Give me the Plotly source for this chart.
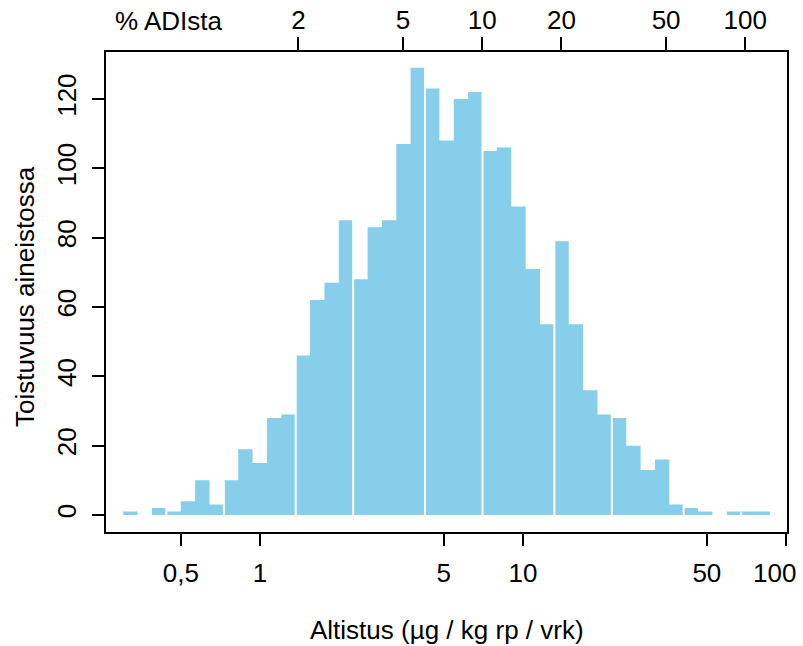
import numpy as np
import plotly.graph_objects as go

# ---- data ----
counts = [1, 0, 2,
          1, 4, 10, 3,
          10, 19, 15, 28, 29,
          46, 62, 67, 85,
          68, 83, 85, 107, 129,
          123, 108, 120, 122,
          105, 106, 89, 71, 55,
          79, 55, 36, 29,
          28, 20, 13, 16, 3,
          2, 1, 0, 1,
          1, 1]
first_edge = 0.302          # µg / kg rp / vrk, lower edge of first bin
log_bin_width = 0.05464     # bin width in log10 units
adi = 70.0                  # µg / kg rp / vrk  (100 % ADI)
separator_edges = [3, 7, 12, 16, 21, 25, 30, 34, 39, 43]
x_tickvals = [0.5, 1, 5, 10, 50, 100]
x_ticktext = ["0,5", "1", "5", "10", "50", ""]
last_x_label = "100"        # drawn right-aligned at the plot edge
pct_tickvals = [2, 5, 10, 20, 50, 100]
pct_ticktext = ["2", "5", "10", "20", "50", "100"]
y_tickvals = [0, 20, 40, 60, 80, 100, 120]

edges = first_edge * 10 ** (log_bin_width * np.arange(len(counts) + 1))

BAR = "#87CEEB"
FONT = "Liberation Sans, Arial, sans-serif"
FS = 26

fig = go.Figure()

# histogram as filled step outline
fig.add_trace(go.Scatter(
    x=list(edges[:-1]) + [edges[-1]],
    y=list(counts) + [counts[-1]],
    mode="lines", line_shape="hv",
    line=dict(width=0, color=BAR),
    fill="tozeroy", fillcolor=BAR,
    hoverinfo="skip", showlegend=False))

# thin white separators between some bins
sx, sy = [], []
for k in separator_edges:
    sx += [edges[k], edges[k], None]
    sy += [0, max(counts[k - 1], counts[k]), None]
fig.add_trace(go.Scatter(x=sx, y=sy, mode="lines",
                         line=dict(color="white", width=2),
                         hoverinfo="skip", showlegend=False))

# dummy trace for the % ADI axis
pct = [e * 100.0 / adi for e in edges]
fig.add_trace(go.Scatter(x=[pct[0], pct[-1]], y=[0, 0], xaxis="x2",
                         mode="markers", marker=dict(opacity=0),
                         hoverinfo="skip", showlegend=False))

lo, hi = -0.5856, 2.0038
shift = np.log10(100.0 / adi)

axis_common = dict(showgrid=False, zeroline=False, ticks="outside",
                   tickwidth=2, tickcolor="black", automargin=False,
                   tickfont=dict(family=FONT, size=FS, color="black"))

fig.update_layout(
    width=803, height=646,
    margin=dict(l=106, r=16, t=52, b=114, autoexpand=False),
    paper_bgcolor="white", plot_bgcolor="white",
    font=dict(family=FONT, color="black"),
    xaxis=dict(type="log", range=[lo, hi], tickvals=x_tickvals,
               ticktext=x_ticktext, ticklen=12,
               showline=True, linewidth=2, linecolor="black", mirror=True,
               ticklabelstandoff=5, **axis_common),
    xaxis2=dict(type="log", range=[lo + shift, hi + shift],
                overlaying="x", side="top", anchor="y",
                tickvals=pct_tickvals, ticktext=pct_ticktext, ticklen=14,
                showline=False, ticklabelstandoff=-2, **axis_common),
    yaxis=dict(range=[-4.9, 133.56], tickvals=y_tickvals, tickangle=-90,
               ticklen=12, showline=True, linewidth=2, linecolor="black",
               mirror=True, ticklabelstandoff=6, **axis_common),
    annotations=[
        dict(text=last_x_label, xref="paper", yref="paper",
             x=(798 - 106) / 681, y=-(573 - 532) / 480,
             xanchor="right", yanchor="middle", showarrow=False,
             font=dict(family=FONT, size=FS, color="black")),
        dict(text="% ADIsta", xref="paper", yref="paper",
             x=(168 - 106) / 681, y=1 + (52 - 21) / 480,
             xanchor="center", yanchor="middle", showarrow=False,
             font=dict(family=FONT, size=FS, color="black")),
        dict(text="Toistuvuus aineistossa", xref="paper", yref="paper",
             x=(25 - 106) / 681, y=(532 - 297) / 480, textangle=-90,
             xanchor="center", yanchor="middle", showarrow=False,
             font=dict(family=FONT, size=FS, color="black")),
        dict(text="Altistus (µg / kg rp / vrk)", xref="paper", yref="paper",
             x=0.5, y=-(630 - 532) / 480,
             xanchor="center", yanchor="middle", showarrow=False,
             font=dict(family=FONT, size=FS, color="black")),
    ],
)

fig.write_html("out.html")
